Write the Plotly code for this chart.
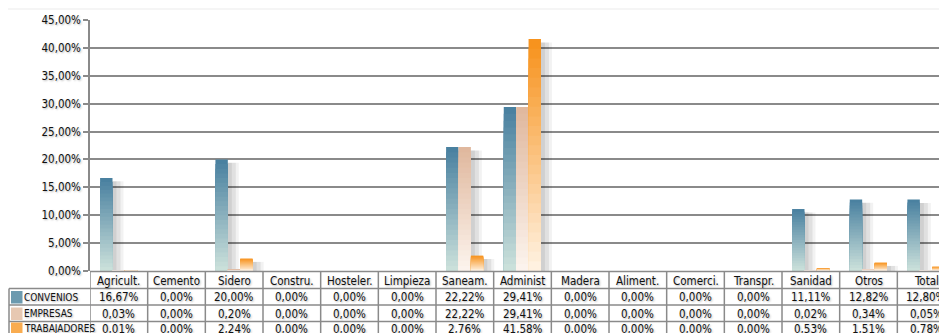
import plotly.graph_objects as go

categorias = ['Agricult.', 'Cemento', 'Sidero', 'Constru.', 'Hosteler.', 'Limpieza', 'Saneam.',
              'Administ', 'Madera', 'Aliment.', 'Comerci.', 'Transpr.', 'Sanidad', 'Otros', 'Total']
convenios = [16.67, 0.00, 20.00, 0.00, 0.00, 0.00, 22.22, 29.41, 0.00, 0.00, 0.00, 0.00, 11.11, 12.82, 12.80]
empresas = [0.03, 0.00, 0.20, 0.00, 0.00, 0.00, 22.22, 29.41, 0.00, 0.00, 0.00, 0.00, 0.02, 0.34, 0.05]
trabajadores = [0.01, 0.00, 2.24, 0.00, 0.00, 0.00, 2.76, 41.58, 0.00, 0.00, 0.00, 0.00, 0.53, 1.51, 0.78]
y_ticks = [0, 5, 10, 15, 20, 25, 30, 35, 40, 45]

series = [
    # nombre, valores, color arriba, color abajo, offset
    ('CONVENIOS', convenios, (74, 129, 160), (208, 228, 221), -0.325),
    ('EMPRESAS', empresas, (224, 184, 158), (253, 246, 240), -0.11),
    ('TRABAJADORES', trabajadores, (247, 147, 30), (255, 245, 232), 0.105),
]

# la pagina deja 8px de margen en el body
M = 8
W, H = 947 - M, 333 - M
L, T, B = 90 - M, 20 - M, 62
PW, PH = W - L, H - T - B
COL = 57.6
BAR_W = 0.215
FONT = 'Liberation Sans Narrow, DejaVu Sans Condensed, sans-serif'
SOMBRA = '1px 1px 2px rgba(0,0,0,0.3)'
x = list(range(len(categorias)))


def mezcla(c1, c2, t):
    return 'rgb(%d,%d,%d)' % tuple(round(a + (b - a) * t) for a, b in zip(c1, c2))


def fmt(v):
    return f'{v:.2f}'.replace('.', ',') + '%'


fig = go.Figure()

# sombras a la derecha de las barras
for nombre, vals, top, bot, off in series:
    for dx, dw, a in [(3, 8, 0.05), (3, 5, 0.07), (2, 2, 0.07)]:
        fig.add_trace(go.Bar(
            x=x, y=[max(v - 0.6, 0) for v in vals], offset=off + dx / COL, width=BAR_W + dw / COL,
            marker=dict(color=f'rgba(0,0,0,{a})', line_width=0),
            showlegend=False, hoverinfo='skip'))

# barras con degradado vertical (capas superpuestas)
K = 24
for nombre, vals, top, bot, off in series:
    for k in range(K):
        f = (K - k) / K
        fig.add_trace(go.Bar(
            x=x, y=[v * f for v in vals], offset=off, width=BAR_W,
            marker=dict(color=mezcla(bot, top, f), line_width=0),
            name=nombre, showlegend=False,
            hoverinfo='skip' if k else None))

shapes = []
annotations = []


# coordenadas de pagina -> paper
def py(px):
    return (H - B - (px - M)) / PH


def pxx(px):
    return (px - M - L) / PW


grid = dict(type='line', line=dict(color='#8a8a8a', width=1.5), layer='above')
# tabla: lineas horizontales
for ypx, x0 in [(271.5, None), (288.5, 9), (305, 9), (321.5, 9)]:
    xa = 0 if x0 is None else pxx(x0)
    shapes.append(dict(grid, xref='paper', yref='paper', x0=xa, x1=1, y0=py(ypx), y1=py(ypx)))
# lineas verticales
for i in range(len(categorias) + 1):
    shapes.append(dict(grid, xref='x', yref='paper', x0=i - 0.5, x1=i - 0.5, y0=py(271.5), y1=py(340)))
shapes.append(dict(grid, xref='paper', yref='paper', x0=pxx(9), x1=pxx(9), y0=py(288.5), y1=py(340)))

# cabecera y valores
txt = dict(showarrow=False, font=dict(family=FONT, size=11.5, color='#111', shadow=SOMBRA),
           yanchor='middle')
for i, c in enumerate(categorias):
    annotations.append(dict(txt, text=c, x=i, xref='x', y=py(281), yref='paper', xanchor='center'))
row_y = [297, 313.5, 328.5]
for (nombre, vals, top, bot, off), ry in zip(series, row_y):
    for i, v in enumerate(vals):
        annotations.append(dict(txt, text=fmt(v), x=i, xref='x', y=py(ry), yref='paper', xanchor='center'))
    annotations.append(dict(txt, text=nombre, x=pxx(22), xref='paper', y=py(ry), yref='paper',
                            xanchor='left', font=dict(family=FONT, size=10, color='#111', shadow=SOMBRA)))
    shapes.append(dict(type='rect', xref='paper', yref='paper', x0=pxx(11), x1=pxx(22.5),
                       y0=py(ry + 6.5), y1=py(ry - 6), line_width=0, fillcolor=mezcla(bot, top, 0.75)))

# sombra superior de la cabecera
shapes.append(dict(type='rect', xref='paper', yref='paper', x0=pxx(0), x1=1,
                   y0=py(10), y1=py(8), line_width=0, fillcolor='rgba(0,0,0,0.04)', layer='below'))

fig.update_layout(
    width=W, height=H,
    margin=dict(l=L, r=0, t=T, b=B),
    barmode='overlay',
    separators=',.',
    paper_bgcolor='white', plot_bgcolor='white',
    font=dict(family=FONT, size=11.5, color='#111'),
    shapes=shapes, annotations=annotations,
    xaxis=dict(range=[-0.5, -0.5 + (PW - 1) / COL], showticklabels=False, showgrid=False,
               zeroline=False, showline=False, fixedrange=True),
    yaxis=dict(range=[0, 45], tickvals=y_ticks, ticktext=[fmt(v) for v in y_ticks],
               showgrid=True, gridcolor='#8a8a8a', gridwidth=1.5, zeroline=False,
               showline=True, linecolor='#8a8a8a', linewidth=1.5,
               ticks='outside', ticklen=5, tickcolor='#8a8a8a', tickwidth=1.5,
               tickfont=dict(family=FONT, size=11.5, color='#111', shadow=SOMBRA), fixedrange=True),
)

fig.write_html('out.html')
